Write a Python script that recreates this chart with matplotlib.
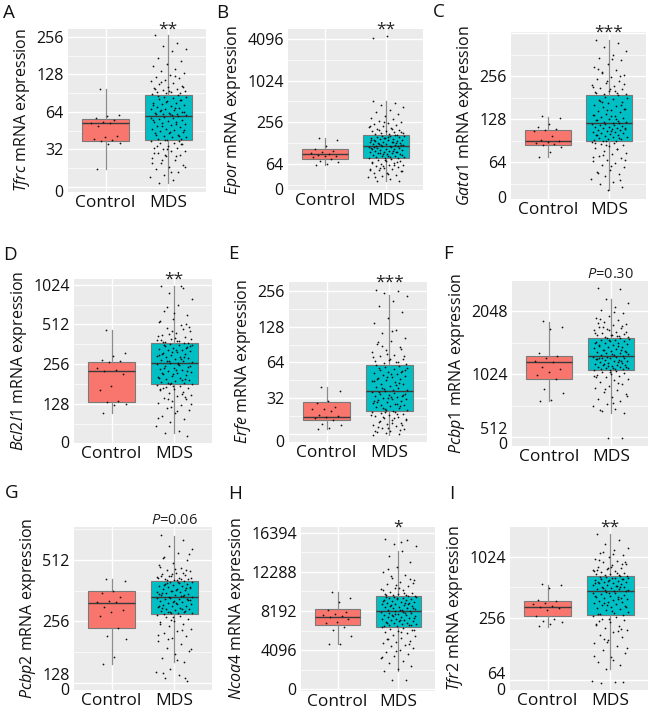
import numpy as np
import matplotlib
matplotlib.use("Agg")
import matplotlib.pyplot as plt
from matplotlib.ticker import FixedLocator, NullLocator, FixedFormatter

plt.rcParams['font.family'] = ['Open Sans', 'DejaVu Sans']
plt.rcParams['mathtext.fontset'] = 'custom'
plt.rcParams['mathtext.it'] = 'Open Sans:italic'
plt.rcParams['mathtext.rm'] = 'Open Sans'

groups = ["Control", "MDS"]

# ---------------- data ----------------
# box stats: [whisker low, Q1, median, Q3, whisker high]
tfrc_box_ctrl = [22, 37, 52, 56, 98]
tfrc_box_mds = [17, 38, 59, 88, 267]
tfrc_ctrl = [98, 60, 59, 57, 55, 53, 52, 52, 49, 41, 40, 39, 38, 37, 36, 35, 22]
tfrc_mds = [267, 228, 215, 205, 196, 172, 163, 154, 149, 141, 137, 131, 127, 122, 119, 116, 113, 109, 107, 104,
            102, 99, 97, 96, 94, 93, 92, 91, 90, 89, 124, 111, 101, 95, 98,
            87, 85, 84, 82, 81, 79, 78, 76, 75, 74, 73, 71, 70, 69, 68, 67, 66, 65, 64, 63, 63, 62, 61, 60, 60,
            86, 80, 77, 72, 69, 66, 64, 62, 61, 59,
            58, 57, 57, 56, 55, 54, 53, 53, 52, 51, 50, 49, 48, 47, 47, 46, 45, 44, 43, 43, 42, 41, 40, 40, 39,
            39, 38, 55, 51, 49, 46, 44, 42, 41, 38,
            37, 36, 36, 35, 34, 33, 33, 32, 31, 31, 30, 29, 28, 27, 26, 25, 24, 23, 22, 21, 20, 19, 18, 17,
            35, 32, 30, 28, 26, 23, 21, 34, 37, 29, 25]

epor_box_ctrl = [63, 76, 90, 105, 151]
epor_box_mds = [36, 78, 116, 169, 523]
epor_ctrl = [151, 144, 118, 104, 100, 97, 93, 90, 87, 85, 83, 80, 76, 70, 68, 65, 63]
epor_mds = [523, 480, 455, 420, 390, 365, 340, 318, 300, 285, 270, 258, 248, 240, 232, 225, 218, 211, 205, 199,
            194, 189, 185, 181, 178, 175, 172, 170, 262, 230, 207, 196, 183, 4480, 4250,
            168, 165, 163, 160, 158, 155, 152, 150, 148, 146, 144, 141, 139, 137, 135, 133, 131, 129, 127, 126,
            124, 122, 121, 119, 118, 117, 116, 150, 140, 132, 125, 120, 157, 143, 128,
            115, 113, 112, 110, 109, 107, 106, 104, 103, 101, 100, 98, 97, 95, 94, 92, 91, 89, 88, 86, 85, 84,
            82, 81, 80, 79, 78, 108, 99, 93, 87, 83, 111, 96, 90,
            77, 75, 73, 71, 70, 68, 66, 65, 63, 62, 60, 58, 57, 55, 54, 52, 50, 48, 47, 45, 43, 41, 39, 37, 36,
            74, 67, 61, 56, 51, 46, 42, 69, 59, 53]

gata1_box_ctrl = [70, 84, 90, 108, 133]
gata1_box_mds = [41, 90, 120, 190, 456]
gata1_ctrl = [134, 131, 118, 114, 110, 108, 106, 98, 92, 91, 89, 88, 86, 84, 82, 76, 70]
gata1_mds = [456, 440, 410, 385, 362, 345, 330, 312, 298, 285, 272, 262, 253, 245, 238, 230, 224, 218, 212, 207,
             203, 199, 196, 193, 191, 340, 290, 258, 236, 215, 201, 268, 226, 209, 195,
             188, 184, 181, 177, 173, 170, 166, 162, 159, 155, 152, 149, 146, 143, 140, 137, 134, 132, 130, 128,
             126, 124, 123, 122, 121, 175, 160, 148, 138, 129, 168, 151, 135, 127, 120,
             119, 118, 117, 116, 115, 114, 113, 112, 111, 110, 109, 108, 107, 106, 105, 104, 103, 102, 101, 100,
             99, 98, 97, 96, 95, 94, 93, 92, 91, 90, 112, 106, 100, 95, 91,
             89, 88, 86, 85, 83, 81, 79, 77, 75, 73, 71, 69, 67, 65, 63, 61, 59, 57, 55, 53, 51, 49, 47, 45, 43,
             41, 87, 80, 72, 66, 60, 54, 48, 84, 70]

bcl2l1_box_ctrl = [110, 132, 227, 265, 465]
bcl2l1_box_mds = [77, 181, 263, 370, 995]
bcl2l1_ctrl = [465, 313, 296, 274, 271, 267, 239, 231, 228, 218, 176, 163, 135, 133, 128, 126, 110]
bcl2l1_mds = [995, 960, 880, 800, 720, 650, 600, 560, 530, 505, 480, 460, 440, 425, 410, 400, 392, 385, 378, 373,
              620, 545, 470, 432, 395, 382, 375, 515, 455, 418, 1000, 690, 490, 405, 388,
              368, 364, 360, 355, 350, 346, 341, 336, 331, 326, 321, 316, 311, 306, 301, 297, 293, 289, 285, 281,
              277, 273, 270, 267, 264, 358, 339, 318, 299, 283, 271, 352, 329, 308, 290,
              261, 257, 253, 249, 245, 241, 237, 233, 229, 225, 221, 217, 213, 209, 205, 201, 197, 194, 191, 188,
              185, 183, 182, 255, 239, 227, 215, 203, 193, 186, 247, 231, 219, 199, 184,
              179, 176, 173, 170, 167, 163, 159, 155, 151, 147, 143, 139, 135, 130, 125, 120, 115, 110, 104, 98,
              94, 88, 80, 77, 74, 175, 165, 153, 141, 128, 113, 168, 145, 122, 100]

erfe_box_ctrl = [17.6, 20.7, 22, 29.4, 40]
erfe_box_mds = [15.7, 24.8, 37, 61, 237]
erfe_ctrl = [40, 37, 30, 29, 27, 26, 26, 25, 23, 22.5, 22, 21.7, 21, 19.3, 18.8, 17.8, 17.6]
erfe_mds = [265, 258, 249, 236, 214, 192, 171, 152, 137, 121, 113, 103, 97, 92, 86, 81, 78, 74, 72, 69, 67, 66,
            64, 63, 62, 118, 95, 84, 76, 71, 65, 89, 73, 68, 61.5,
            60, 58.7, 57.9, 56.5, 55.8, 54.2, 53.6, 52.1, 51.3, 50.2, 49.4, 48.1, 47.5, 46.2, 45.4, 44.3, 43.6,
            42.5, 41.7, 40.6, 39.8, 38.9, 38.3, 37.6, 37.2, 57.2, 52.8, 48.7, 44.8, 41.2, 39.3, 55.1, 50.7, 46.8,
            43.1,
            36.6, 36.1, 35.4, 34.9, 34.3, 33.8, 33.2, 32.7, 32.1, 31.6, 31.2, 30.6, 30.1, 29.7, 29.2, 28.6, 28.1,
            27.7, 27.2, 26.8, 26.3, 25.9, 25.5, 25.1, 35.7, 33.5, 31.9, 30.4, 28.4, 26.6, 34.6, 32.4, 29.9, 27.5,
            25.3,
            24.6, 24.2, 23.8, 23.3, 22.9, 22.4, 22.0, 21.6, 21.1, 20.7, 20.2, 19.8, 19.4, 18.9, 18.5, 18.0, 17.5,
            17.0, 16.4, 15.9, 24.4, 23.1, 21.8, 20.5, 19.1, 17.8, 16.7, 23.6, 22.2, 20.9, 19.6, 18.3, 17.2, 16.1,
            15.7]

pcbp1_box_ctrl = [762, 970, 1172, 1250, 1820]
pcbp1_box_mds = [670, 1075, 1250, 1535, 2355]
pcbp1_ctrl = [1840, 1720, 1690, 1300, 1250, 1230, 1180, 1172, 1110, 1080, 1050, 1013, 970, 875, 833, 775, 762]
pcbp1_mds = [2650, 2620, 2355, 2250, 2150, 2080, 2000, 1950, 1900, 1860, 1820, 1790, 1760, 1730, 1700, 1680,
             1660, 1640, 1620, 1600, 1585, 1570, 1555, 1545, 1540, 2030, 1880, 1750, 1670, 1610, 1565, 1720,
             1630, 1575, 1800,
             1530, 1520, 1510, 1500, 1490, 1480, 1470, 1460, 1450, 1440, 1425, 1410, 1400, 1390, 1380, 1365,
             1350, 1340, 1330, 1320, 1310, 1300, 1290, 1280, 1270, 1260, 1255, 1495, 1445, 1395, 1345, 1305,
             1275, 1415, 1335,
             1245, 1240, 1235, 1230, 1225, 1220, 1210, 1200, 1195, 1190, 1180, 1170, 1165, 1160, 1150, 1140,
             1135, 1130, 1120, 1110, 1105, 1100, 1095, 1090, 1085, 1080, 1078, 1215, 1175, 1145, 1115, 1092,
             1228, 1188, 1125,
             1070, 1060, 1050, 1040, 1030, 1020, 1005, 990, 975, 960, 940, 920, 900, 880, 860, 840, 820, 800,
             780, 760, 740, 720, 700, 685, 670, 1045, 995, 930, 870, 810, 750, 690, 508, 510, 1010]

pcbp2_box_ctrl = [158, 237, 315, 362, 413]
pcbp2_box_mds = [163, 278, 336, 405, 670]
pcbp2_ctrl = [413, 401, 362, 353, 337, 321, 320, 318, 302, 290, 284, 272, 237, 218, 210, 171, 158]
pcbp2_mds = [673, 640, 600, 575, 555, 530, 510, 495, 480, 468, 458, 450, 443, 437, 431, 426, 421, 417, 413, 410,
             407, 470, 440, 424, 415, 409, 520, 455, 434, 419, 412, 406, 545, 462, 428,
             403, 400, 397, 394, 391, 388, 385, 382, 379, 376, 373, 370, 367, 364, 361, 358, 355, 352, 349, 346,
             343, 340, 338, 337, 399, 386, 372, 359, 347, 341, 392, 378, 365, 353, 344,
             334, 332, 330, 328, 326, 323, 321, 318, 316, 313, 311, 308, 306, 303, 301, 298, 296, 293, 291, 288,
             286, 284, 282, 280, 279, 331, 319, 305, 294, 285, 327, 314, 299, 289, 281,
             276, 272, 268, 263, 258, 253, 248, 242, 236, 230, 224, 218, 212, 205, 198, 191, 184, 177, 170, 163,
             150, 145, 140, 136, 131, 270, 250, 232, 210, 188, 167, 143, 135, 260, 220]

ncoa4_box_ctrl = [4700, 6700, 7520, 8370, 10230]
ncoa4_box_mds = [1920, 6560, 8190, 9790, 14520]
ncoa4_ctrl = [10230, 9610, 9100, 8270, 8090, 7920, 7760, 7660, 7520, 7400, 7070, 6900, 6560, 6220, 5610, 4700,
              4700]
ncoa4_mds = [15740, 15600, 15200, 15000, 14520, 14000, 13300, 12800, 12300, 12000, 11700, 11400, 11200, 11000,
             10800, 10650, 10500, 10350, 10200, 10100, 10000, 9950, 9900, 9850, 9800, 15400, 12600, 11500, 10900,
             10400, 10050, 11900, 11100, 10600, 9880,
             9750, 9700, 9650, 9600, 9550, 9480, 9420, 9360, 9300, 9240, 9180, 9120, 9060, 9000, 8940, 8880,
             8820, 8760, 8700, 8640, 8580, 8520, 8460, 8400, 8340, 8280, 8220, 9520, 9270, 9030, 8790, 8550,
             8310, 9650, 8900,
             8150, 8100, 8050, 8000, 7950, 7880, 7820, 7760, 7700, 7640, 7580, 7520, 7460, 7400, 7340, 7280,
             7220, 7160, 7100, 7040, 6980, 6920, 6860, 6800, 6740, 6680, 6620, 6580, 8020, 7740, 7480, 7200,
             6950, 6700, 7900,
             6500, 6400, 6300, 6200, 6100, 6000, 5850, 5700, 5550, 5400, 5250, 5100, 4950, 4800, 4650, 4500,
             4300, 4100, 3900, 3700, 3500, 3250, 3000, 2700, 2400, 2100, 1920, 975, 990, 6250, 5950, 5300,
             4700, 4000, 3400]

tfr2_box_ctrl = [210, 269, 328, 377, 537]
tfr2_box_mds = [82, 273, 468, 661, 1690]
tfr2_ctrl = [549, 541, 503, 386, 377, 364, 350, 338, 332, 324, 309, 269, 249, 240, 232, 223, 212]
tfr2_mds = [1690, 1500, 1350, 1250, 1180, 1120, 1060, 1010, 970, 935, 900, 870, 845, 820, 800, 780, 760, 745,
            730, 715, 700, 690, 680, 670, 665, 1080, 950, 860, 790, 740, 705, 1150, 910, 810, 755,
            655, 648, 640, 632, 624, 616, 608, 600, 592, 584, 576, 568, 560, 552, 544, 536, 528, 520, 512, 505,
            498, 491, 484, 478, 472, 650, 620, 590, 560, 530, 500, 475, 635, 575, 515,
            462, 455, 447, 440, 432, 425, 417, 410, 402, 395, 387, 380, 372, 365, 357, 350, 342, 335, 327, 320,
            312, 305, 297, 290, 283, 277, 450, 420, 390, 360, 330, 300, 280, 405, 345,
            268, 260, 252, 243, 234, 225, 216, 206, 196, 186, 176, 166, 156, 146, 136, 126, 116, 106, 96, 88,
            82, 62, 60, 59, 61, 250, 220, 190, 160, 130, 100, 240, 200, 150, 110]

genes = ["Tfrc", "Epor", "Gata1", "Bcl2l1", "Erfe", "Pcbp1", "Pcbp2", "Ncoa4", "Tfr2"]
panel_letters = ["A", "B", "C", "D", "E", "F", "G", "H", "I"]
signif = ["**", "**", "***", "**", "***", r"$\mathit{P}$=0.30", r"$\mathit{P}$=0.06", "*", "**"]
tick_labels = [["0", "32", "64", "128", "256"],
               ["0", "64", "256", "1024", "4096"],
               ["0", "64", "128", "256"],
               ["0", "128", "256", "512", "1024"],
               ["0", "32", "64", "128", "256"],
               ["0", "512", "1024", "2048"],
               ["0", "128", "256", "512"],
               ["0", "4096", "8192", "12288", "16394"],
               ["0", "64", "256", "1024"]]

ctrl_points = [tfrc_ctrl, epor_ctrl, gata1_ctrl, bcl2l1_ctrl, erfe_ctrl, pcbp1_ctrl, pcbp2_ctrl, ncoa4_ctrl, tfr2_ctrl]
mds_points = [tfrc_mds, epor_mds, gata1_mds, bcl2l1_mds, erfe_mds, pcbp1_mds, pcbp2_mds, ncoa4_mds, tfr2_mds]
ctrl_boxes = [tfrc_box_ctrl, epor_box_ctrl, gata1_box_ctrl, bcl2l1_box_ctrl, erfe_box_ctrl, pcbp1_box_ctrl,
              pcbp2_box_ctrl, ncoa4_box_ctrl, tfr2_box_ctrl]
mds_boxes = [tfrc_box_mds, epor_box_mds, gata1_box_mds, bcl2l1_box_mds, erfe_box_mds, pcbp1_box_mds,
             pcbp2_box_mds, ncoa4_box_mds, tfr2_box_mds]

# ---------------- layout / axis styling ----------------
W, H = 653, 710
# panel pixel boxes: x0, x1, y0(top), y1(bottom)
panel_px = [(68, 206, 29, 192), (288, 423, 29, 190), (511, 646, 32, 199),
            (74, 212, 279, 443), (289, 427, 282, 442), (512, 648, 281, 446),
            (74, 212, 527, 690), (301, 435, 527, 691), (510, 648, 527, 690)]
letter_px = [(3, 13), (216, 13), (433, 12), (3, 255), (228, 254), (443, 254), (5, 493), (228, 494), (449, 494)]
# axis configuration: scale, ylim, tick positions (label placement), major grid, minor grid
axis_cfg = [
    dict(scale="log", ylim=(14.5, 297), ticks=[14.9, 32, 64, 128, 256],
         major=[16, 32, 64, 128, 256], minor=[22.6, 45.3, 90.5, 181]),
    dict(scale="log", ylim=(27, 5700), ticks=[27.8, 64, 256, 1024, 4096],
         major=[64, 256, 1024, 4096], minor=[32, 128, 512, 2048]),
    dict(scale="log", ylim=(35.5, 522), ticks=[36.5, 64, 128, 256],
         major=[64, 128, 256, 512], minor=[45.3, 90.5, 181, 362]),
    dict(scale="log", ylim=(65, 1130), ticks=[66.5, 128, 256, 512, 1024],
         major=[128, 256, 512, 1024], minor=[90.5, 181, 362, 724]),
    dict(scale="log", ylim=(13.6, 307), ticks=[14.0, 32, 64, 128, 256],
         major=[16, 32, 64, 128, 256], minor=[22.6, 45.3, 90.5, 181]),
    dict(scale="log", ylim=(465, 2860), ticks=[478, 568, 1024, 2048],
         major=[512, 1024, 2048], minor=[724, 1448]),
    dict(scale="log", ylim=(118.6, 739), ticks=[120, 142, 256, 512],
         major=[128, 256, 512], minor=[181, 362, 724]),
    dict(scale="linear", ylim=(-190, 17000), ticks=[0, 4096, 8192, 12288, 16384],
         major=[0, 4096, 8192, 12288, 16384], minor=[2048, 6144, 10240, 14336]),
    dict(scale="log", ylim=(50.6, 2000), ticks=[51.8, 74, 256, 1024],
         major=[64, 256, 1024], minor=[128, 512]),
]

CTRL_COLOR = "#F8766D"
MDS_COLOR = "#00BFC4"


def jitter(n, center, half, phase):
    i = np.arange(n)
    f = np.modf(i * 0.6180339887 + phase)[0]
    return center + half * (2 * f - 1)


fig = plt.figure(figsize=(W / 100, H / 100), dpi=100)

for k in range(9):
    x0, x1, y0, y1 = panel_px[k]
    ax = fig.add_axes([x0 / W, 1 - y1 / H, (x1 - x0) / W, (y1 - y0) / H])
    cfg = axis_cfg[k]
    ax.set_facecolor("#EBEBEB")
    for s in ax.spines.values():
        s.set_visible(False)
    if cfg["scale"] == "log":
        ax.set_yscale("log", base=2)
    ax.set_xlim(0.4, 2.6)
    ax.set_ylim(*cfg["ylim"])

    for v in cfg["major"]:
        ax.axhline(v, color="white", lw=1.0, zorder=0.5)
    for v in cfg["minor"]:
        ax.axhline(v, color="white", lw=0.5, zorder=0.5)
    for xv in (1, 2):
        ax.axvline(xv, color="white", lw=1.0, zorder=0.5)

    stats = []
    for b in (ctrl_boxes[k], mds_boxes[k]):
        stats.append(dict(whislo=b[0], q1=b[1], med=b[2], q3=b[3], whishi=b[4], fliers=[]))
    bp = ax.bxp(stats, positions=[1, 2], widths=0.75, patch_artist=True, showcaps=False,
                showfliers=False,
                boxprops=dict(edgecolor="#7a7a7a", linewidth=0.8),
                medianprops=dict(color="#3a3a3a", linewidth=1.0),
                whiskerprops=dict(color="#8c8c8c", linewidth=0.9),
                manage_ticks=False, zorder=2)
    bp["boxes"][0].set_facecolor(CTRL_COLOR)
    bp["boxes"][1].set_facecolor(MDS_COLOR)

    cp = np.array(ctrl_points[k], dtype=float)
    mp = np.array(mds_points[k], dtype=float)
    ax.scatter(jitter(len(cp), 1, 0.24, 0.31), cp, s=1.6, color="#111111", linewidths=0, zorder=3)
    ax.scatter(jitter(len(mp), 2, 0.29, 0.13), mp, s=1.6, color="#111111", linewidths=0, zorder=3)

    ax.yaxis.set_major_locator(FixedLocator(cfg["ticks"]))
    ax.yaxis.set_major_formatter(FixedFormatter(tick_labels[k]))
    ax.yaxis.set_minor_locator(NullLocator())
    ax.set_xticks([1, 2])
    ax.set_xticklabels(groups)
    ax.tick_params(axis="y", length=0, pad=3, labelsize=11.5, labelcolor="#111111")
    ax.tick_params(axis="x", length=0, pad=2, labelsize=12.5, labelcolor="#111111")
    ax.set_ylabel(r"$\mathit{" + genes[k] + "}$ mRNA expression", fontsize=11.5, labelpad=3, color="#111111")

    s = signif[k]
    if s.startswith("*"):
        ax.annotate(s, xy=(2, 1), xycoords=("data", "axes fraction"), xytext=(0, -3),
                    textcoords="offset points", ha="center", va="baseline", fontsize=12.5, color="#222222",
                    annotation_clip=False)
    else:
        ax.annotate(s, xy=(2, 1), xycoords=("data", "axes fraction"), xytext=(0, 2.5),
                    textcoords="offset points", ha="center", va="baseline", fontsize=10.5, color="#222222",
                    annotation_clip=False)

    lx, ly = letter_px[k]
    fig.text(lx / W, 1 - ly / H, panel_letters[k], fontsize=13.5, ha="left", va="center", color="#111111")

fig.savefig("out.png", dpi=100)
